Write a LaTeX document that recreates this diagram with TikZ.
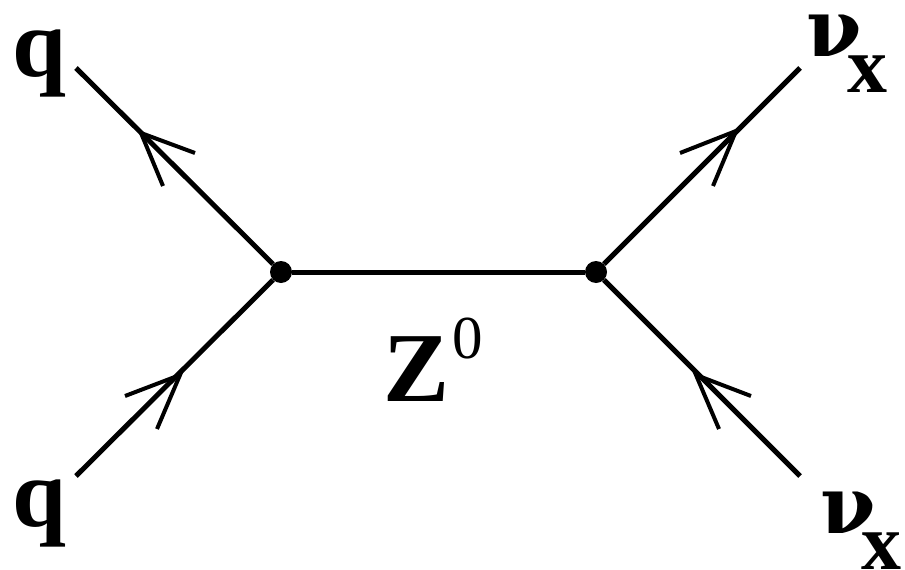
\documentclass[tikz,border=0pt]{standalone}
\usepackage{fontspec}
\setmainfont{Liberation Serif}
\newfontfamily\nufont{DejaVu Serif}
\begin{document}
\begin{tikzpicture}[x=1pt,y=-1pt,
  fline/.style={line width=5pt,draw=black},
  arm/.style={line width=4pt,draw=black},
  vtx/.style={circle,fill=black,inner sep=0pt,minimum size=22pt},
  lab/.style={inner sep=0pt,font=\bfseries\fontsize{97}{97}\selectfont},
  zlab/.style={inner sep=0pt,font=\bfseries\fontsize{99}{99}\selectfont},
  suplab/.style={inner sep=0pt,font=\fontsize{61}{61}\selectfont},
  nulab/.style={inner sep=0pt,font=\nufont\bfseries\fontsize{80}{80}\selectfont},
  xlab/.style={inner sep=0pt,font=\bfseries\fontsize{80}{80}\selectfont}]
\useasboundingbox (0,0) rectangle (905,570);
\fill[white] (0,0) rectangle (905,570);
\node[vtx] (v1) at (281,272) {};
\node[vtx] (v2) at (596,272) {};
\coordinate (q1) at (76,68);
\coordinate (q2) at (76,476);
\coordinate (n1) at (800,68);
\coordinate (n2) at (800,476);
\draw[fline] (v1) -- (v2);
\draw[fline] (q1) -- (v1);
\draw[fline] (q2) -- (v1);
\draw[fline] (v2) -- (n1);
\draw[fline] (n2) -- (v2);
\coordinate (a1) at (141,133);
\draw[arm] (195,153) -- (a1) -- (163,186);
\coordinate (a2) at (180,375);
\draw[arm] (125,396) -- (a2) -- (157,429);
\coordinate (a3) at (736,131);
\draw[arm] (680,153) -- (a3) -- (713,186);
\coordinate (a4) at (696,375);
\draw[arm] (751,396) -- (a4) -- (719,429);
\node[lab,anchor=base] (tq1) at (39,76) {q};
\node[lab,anchor=base] (tq2) at (39,526) {q};
\node[zlab,anchor=base west] (tz) at (383,401) {Z};
\node[suplab,anchor=base west] (tz0) at (452,358) {0};
\node[nulab,anchor=base west] (tn1) at (806,56) {ν};
\node[xlab,anchor=base west] (tx1) at (847,92) {x};
\node[nulab,anchor=base west] (tn2) at (820,533) {ν};
\node[xlab,anchor=base west] (tx2) at (861,569) {x};
\end{tikzpicture}
\end{document}
